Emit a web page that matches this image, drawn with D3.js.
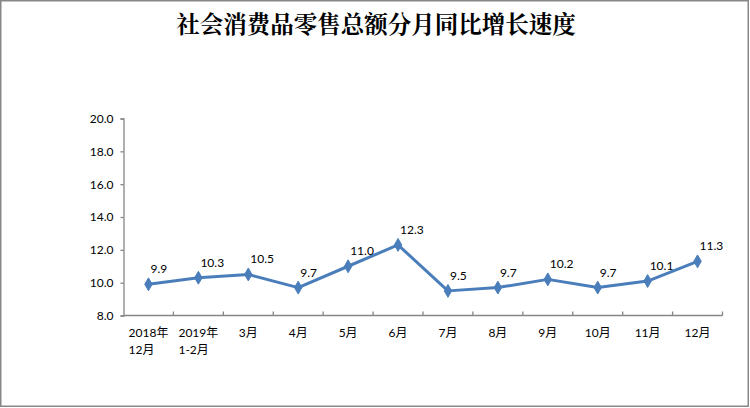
<!DOCTYPE html>
<html><head><meta charset="utf-8">
<script src="https://cdn.jsdelivr.net/npm/d3@7/dist/d3.min.js"></script>
<style>html,body{margin:0;padding:0;background:#fff;}</style>
</head><body>
<svg id="c" width="750" height="408"></svg>
<script>
const title = "社会消费品零售总额分月同比增长速度";
const categories = [["2018年","12月"],["2019年","1-2月"],["3月"],["4月"],["5月"],["6月"],["7月"],["8月"],["9月"],["10月"],["11月"],["12月"]];
const values = [9.9, 10.3, 10.5, 9.7, 11.0, 12.3, 9.5, 9.7, 10.2, 9.7, 10.1, 11.3];
const yTicks = [8, 10, 12, 14, 16, 18, 20];

const svg = d3.select("#c");
const font = "Lato, 'Noto Sans CJK SC', sans-serif";

svg.append("rect").attr("x",0.75).attr("y",0.75).attr("width",747.5).attr("height",405.5)
  .attr("fill","#fff").attr("stroke","#878787").attr("stroke-width",1.5);

svg.append("text").attr("x",376).attr("y",33).attr("text-anchor","middle")
  .attr("font-family","'Noto Serif CJK SC','Noto Sans CJK SC',serif").attr("font-weight","bold")
  .attr("font-size",23.5).attr("fill","#000").text(title);

const x = d3.scaleBand().domain(d3.range(categories.length)).range([123.5, 722.5]);
const y = d3.scaleLinear().domain([8, 20]).range([315.5, 118.5]);

// y axis
const gy = svg.append("g").attr("transform","translate(123.5,0)")
  .call(d3.axisLeft(y).tickValues(yTicks).tickFormat(d3.format(".1f")).tickSize(3).tickPadding(7));
gy.select(".domain").attr("stroke","#868686").attr("stroke-width",1.3);
gy.selectAll(".tick line").attr("stroke","#868686").attr("stroke-width",1.3);
gy.selectAll("text").attr("font-family",font).attr("font-size",12).attr("fill","#000");

// x axis
const gx = svg.append("g").attr("transform","translate(0,315.5)");
gx.append("line").attr("x1",123.5).attr("x2",722.5).attr("stroke","#868686").attr("stroke-width",1.3);
const bounds = d3.range(categories.length + 1).map(i => i < categories.length ? x(i) : x(categories.length-1) + x.bandwidth());
gx.selectAll("line.tk").data(bounds.slice(1)).join("line").attr("class","tk")
  .attr("x1",d=>d).attr("x2",d=>d).attr("y1",0).attr("y2",-4).attr("stroke","#868686").attr("stroke-width",1.3);

const lab = svg.append("g").attr("font-family",font).attr("font-size",12).attr("fill","#000");
categories.forEach((lines, i) => {
  const cx = x(i) + x.bandwidth()/2;
  const t = lab.append("text").attr("y",337);
  lines.forEach((ln, j) => t.append("tspan").attr("x",0).attr("dy", j ? 16.5 : 0).text(ln));
  const w = t.node().getBBox().width;
  t.attr("transform",`translate(${cx - w/2},0)`);
});

// line
const px = i => x(i) + x.bandwidth()/2;
svg.append("path").datum(values)
  .attr("d", d3.line().x((d,i)=>px(i)).y(d=>y(d)))
  .attr("fill","none").attr("stroke","#4a7ebb").attr("stroke-width",3).attr("stroke-linejoin","round");

svg.selectAll("path.mk").data(values).join("path").attr("class","mk")
  .attr("d", d3.symbol().type(d3.symbolDiamond).size(48))
  .attr("transform",(d,i)=>`translate(${px(i)},${y(d)})`)
  .attr("fill","#4a7ebb").attr("stroke","#4a7ebb").attr("stroke-width",1);

svg.selectAll("text.dl").data(values).join("text").attr("class","dl")
  .attr("x",(d,i)=>px(i)+2).attr("y",d=>y(d)-11)
  .attr("font-family",font).attr("font-size",12).attr("fill","#000")
  .text(d=>d.toFixed(1));
</script>
</body></html>
